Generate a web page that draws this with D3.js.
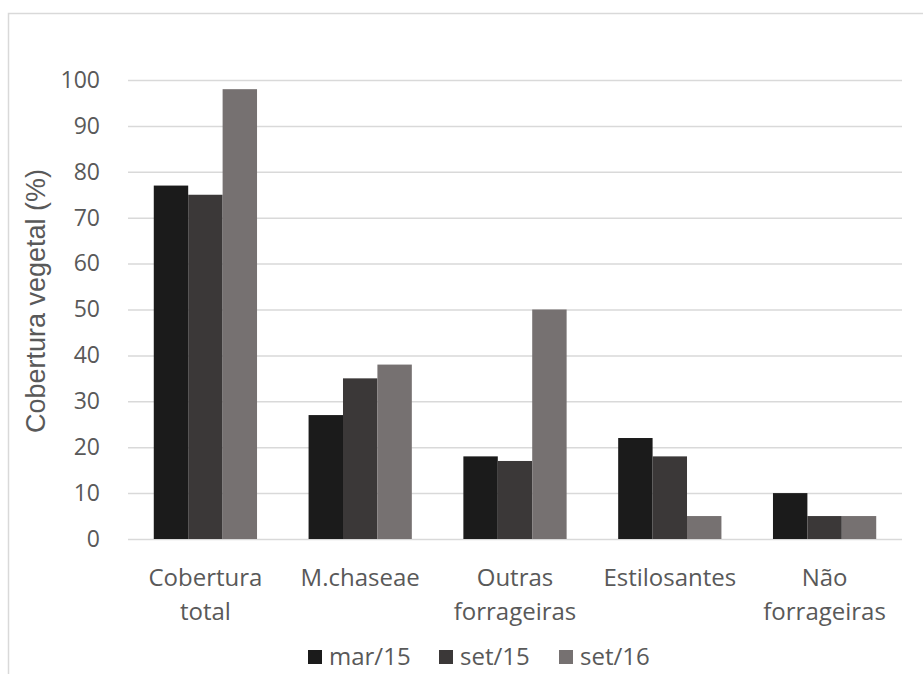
<!DOCTYPE html>
<html>
<head>
<meta charset="utf-8">
<script src="https://cdn.jsdelivr.net/npm/d3@7"></script>
<style>
    body { margin: 0; background: #fff; }
    svg { display: block; }
    .tick text, .cat-label, .legend text { font-family: "Open Sans", Lato, sans-serif; fill: #595959; }
    .y-title { font-family: "Liberation Sans", Arial, sans-serif; fill: #595959; }
</style>
</head>
<body>
<svg id="chart" width="923" height="674"></svg>
<script>
// Data
const categories = [['Cobertura', 'total'], ['M.chaseae'], ['Outras', 'forrageiras'], ['Estilosantes'], ['Não', 'forrageiras']];
const seriesNames = ['mar/15', 'set/15', 'set/16'];
const mar15 = [77, 27, 18, 22, 10];
const set15 = [75, 35, 17, 18, 5];
const set16 = [98, 38, 50, 5, 5];
const yTicks = [0, 10, 20, 30, 40, 50, 60, 70, 80, 90, 100];

const seriesColors = ['#1b1b1b', '#3b3838', '#767171'];
const series = [mar15, set15, set16];

const svg = d3.select('#chart');
const plot = { left: 128, right: 902, top: 80, bottom: 539 };

// Outer frame
svg.append('rect')
    .attr('x', 8.5).attr('y', 13.5)
    .attr('width', 930).attr('height', 700)
    .attr('fill', 'none').attr('stroke', '#d9d9d9').attr('stroke-width', 1.5);

const x = d3.scaleBand()
    .domain(d3.range(categories.length))
    .range([plot.left, plot.right])
    .paddingInner(0.333).paddingOuter(0.1665);

const xs = d3.scaleBand()
    .domain(d3.range(seriesNames.length))
    .range([0, x.bandwidth()]);

const y = d3.scaleLinear().domain([0, 100]).range([plot.bottom, plot.top]);

// Gridlines + y labels
const yAxis = svg.append('g')
    .attr('transform', 'translate(' + plot.left + ',0)')
    .call(d3.axisLeft(y).tickValues(yTicks).tickSize(-(plot.right - plot.left)).tickPadding(28));
yAxis.select('.domain').remove();
yAxis.selectAll('.tick line').attr('stroke', '#d9d9d9').attr('stroke-width', 1.5);
yAxis.selectAll('.tick text').style('font-size', '23px');

// Bars
series.forEach((vals, si) => {
    svg.append('g').selectAll('rect')
        .data(vals)
        .join('rect')
            .attr('x', (d, i) => x(i) + xs(si))
            .attr('y', d => y(d))
            .attr('width', xs.bandwidth())
            .attr('height', d => y(0) - y(d))
            .attr('fill', seriesColors[si]);
});

// Category labels
const cat = svg.append('g').selectAll('text')
    .data(categories)
    .join('text')
        .attr('class', 'cat-label')
        .attr('text-anchor', 'middle')
        .attr('x', (d, i) => x(i) + x.bandwidth() / 2)
        .attr('y', 586)
        .style('font-size', '24px');
cat.selectAll('tspan')
    .data(d => d)
    .join('tspan')
        .attr('x', function() { return d3.select(this.parentNode).attr('x'); })
        .attr('dy', (d, i) => i === 0 ? 0 : 34)
        .text(d => d);

// Y title
svg.append('text')
    .attr('class', 'y-title')
    .attr('transform', 'translate(45,301) rotate(-90)')
    .attr('text-anchor', 'middle')
    .style('font-size', '27px')
    .text('Cobertura vegetal (%)');

// Legend
const legendX = [308, 439, 559];
const legend = svg.append('g').attr('class', 'legend')
    .selectAll('g')
    .data(seriesNames)
    .join('g')
        .attr('transform', (d, i) => 'translate(' + legendX[i] + ',650)');
legend.append('rect')
    .attr('width', 14).attr('height', 14)
    .attr('fill', (d, i) => seriesColors[i]);
legend.append('text')
    .attr('x', 21).attr('y', 15)
    .style('font-size', '24px')
    .text(d => d);
</script>
</body>
</html>
